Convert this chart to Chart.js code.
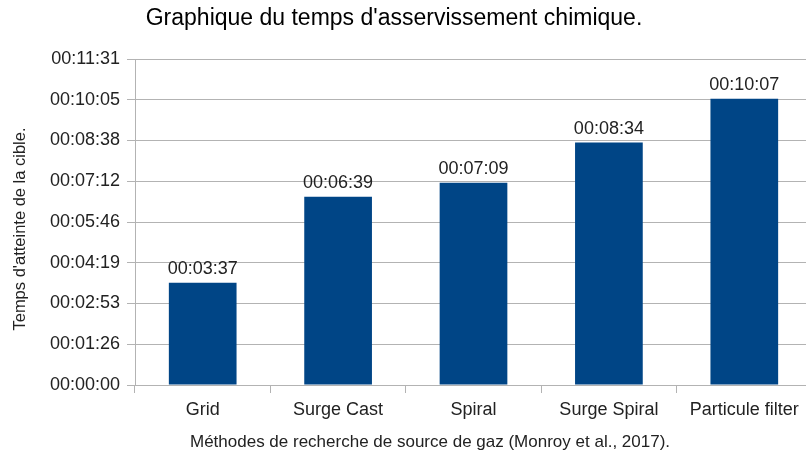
<!DOCTYPE html>
<html lang="fr">
<head>
<meta charset="utf-8">
<title>Temps d'asservissement chimique</title>
<script src="https://cdn.jsdelivr.net/npm/chart.js@4.4.0/dist/chart.umd.min.js"></script>
<style>
  html, body { margin: 0; padding: 0; background: #fff; overflow: hidden; }
  #wrap { width: 812px; height: 458px; }
</style>
</head>
<body>
<div id="wrap"><canvas id="chart" width="812" height="458"></canvas></div>
<script>
/* ---------- data ---------- */
var methods = ['Grid', 'Surge Cast', 'Spiral', 'Surge Spiral', 'Particule filter'];
var times = ['00:03:37', '00:06:39', '00:07:09', '00:08:34', '00:10:07'];
var yTickValues = [0, 86.4, 172.8, 259.2, 345.6, 432, 518.4, 604.8, 691.2];
var yTickLabels = ['00:00:00', '00:01:26', '00:02:53', '00:04:19', '00:05:46',
                   '00:07:12', '00:08:38', '00:10:05', '00:11:31'];

var TITLE = "Graphique du temps d'asservissement chimique.";
var X_TITLE = 'Méthodes de recherche de source de gaz (Monroy et al., 2017).';
var Y_TITLE = "Temps d'atteinte de la cible.";

var FONT = "'Liberation Sans', Arial, sans-serif";
var INK = '#222';
var RULE = '#b3b3b3';
var BAR = '#004586';

/* hh:mm:ss -> seconds, so each bar is drawn from the label it carries */
function toSeconds(t) {
  var p = t.split(':');
  return (+p[0]) * 3600 + (+p[1]) * 60 + (+p[2]);
}

/* ---------- plugins ---------- */
/* main title and both axis titles sit on the page, not on the plot box */
var captions = {
  id: 'captions',
  afterDraw: function (chart) {
    var ctx = chart.ctx;
    ctx.save();
    ctx.textAlign = 'center';
    ctx.textBaseline = 'middle';

    ctx.font = '23px ' + FONT;
    ctx.fillStyle = '#000';
    ctx.fillText(TITLE, 394, 19);

    ctx.font = '17px ' + FONT;
    ctx.fillStyle = INK;
    ctx.fillText(X_TITLE, 430, 442);

    ctx.font = '16.5px ' + FONT;
    ctx.translate(20, 229);
    ctx.rotate(-Math.PI / 2);
    ctx.fillText(Y_TITLE, 0, 0);
    ctx.restore();
  }
};

var barLabels = {
  id: 'barLabels',
  afterDatasetsDraw: function (chart) {
    var ctx = chart.ctx;
    var meta = chart.getDatasetMeta(0);
    ctx.save();
    ctx.font = '18px ' + FONT;
    ctx.fillStyle = INK;
    ctx.textAlign = 'center';
    ctx.textBaseline = 'alphabetic';
    meta.data.forEach(function (bar, i) {
      ctx.fillText(times[i], bar.x, bar.y - 9);
    });
    ctx.restore();
  }
};

/* ---------- chart ---------- */
new Chart(document.getElementById('chart'), {
  type: 'bar',
  data: {
    labels: methods,
    datasets: [{
      data: times.map(toSeconds),
      backgroundColor: BAR,
      borderWidth: 0,
      barPercentage: 0.5,
      categoryPercentage: 1
    }]
  },
  options: {
    responsive: false,
    animation: false,
    layout: { padding: { top: 59, left: 50, right: 0, bottom: 37 } },
    plugins: {
      legend: { display: false },
      tooltip: { enabled: false }
    },
    scales: {
      x: {
        offset: true,
        afterFit: function (axis) { axis.height = 36; },
        grid: { offset: true, drawOnChartArea: false, tickLength: 8, color: RULE },
        border: { color: RULE },
        ticks: { color: INK, font: { family: FONT, size: 18 }, padding: 6 }
      },
      y: {
        min: 0,
        max: 691.2,
        afterBuildTicks: function (axis) {
          axis.ticks = yTickValues.map(function (v) { return { value: v }; });
        },
        afterFit: function (axis) { axis.width = 85; },
        grid: { color: RULE, tickLength: 8 },
        border: { color: RULE },
        ticks: {
          color: INK, font: { family: FONT, size: 18 }, padding: 7,
          callback: function (v, i) { return yTickLabels[i]; }
        }
      }
    }
  },
  plugins: [captions, barLabels]
});
</script>
</body>
</html>
